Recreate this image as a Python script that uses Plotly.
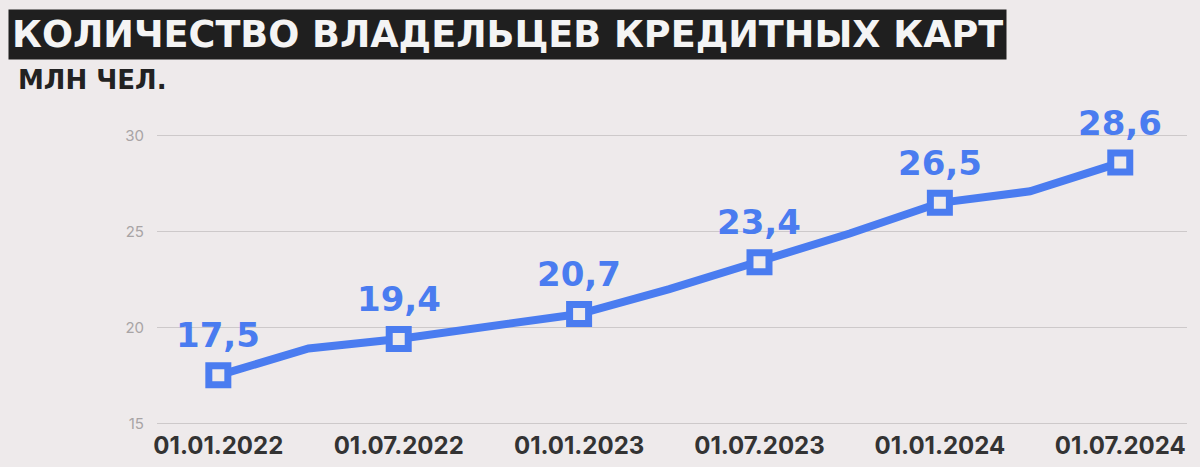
import plotly.graph_objects as go

# quarterly points; only half-year points are labelled and marked
quarters = ['01.01.2022', '01.04.2022', '01.07.2022', '01.10.2022',
            '01.01.2023', '01.04.2023', '01.07.2023', '01.10.2023',
            '01.01.2024', '01.04.2024', '01.07.2024']
owners = [17.5, 18.9, 19.4, 20.0, 20.7, 22.0, 23.4, 24.9, 26.5, 27.1, 28.6]

half_years = ['01.01.2022', '01.07.2022', '01.01.2023', '01.07.2023', '01.01.2024', '01.07.2024']
half_values = [17.5, 19.4, 20.7, 23.4, 26.5, 28.6]

y_ticks = [15, 20, 25, 30]

BLUE = '#4a7cf0'
BG = '#eeeaeb'

labels = [f'{v:.1f}'.replace('.', ',') for v in half_values]

fig = go.Figure()

fig.add_trace(go.Scatter(
    x=quarters, y=owners, mode='lines',
    line=dict(color=BLUE, width=8),
    hoverinfo='skip', showlegend=False,
))

fig.add_trace(go.Scatter(
    x=half_years, y=half_values, mode='markers',
    marker=dict(symbol='square', size=19, color=BG, line=dict(color=BLUE, width=7)),
    cliponaxis=False, hoverinfo='skip', showlegend=False,
))

# value labels above the markers
for d, v, t in zip(half_years, half_values, labels):
    fig.add_annotation(
        x=d, y=v, text=t, showarrow=False,
        xanchor='center', yanchor='bottom', yshift=18,
        font=dict(family='DejaVu Sans', size=34, color=BLUE, weight='bold'),
    )

fig.add_annotation(
    text='КОЛИЧЕСТВО ВЛАДЕЛЬЦЕВ КРЕДИТНЫХ КАРТ',
    xref='paper', yref='paper', x=-0.1447, y=1.32,
    xanchor='left', yanchor='middle', showarrow=False,
    bgcolor='#1f1f1f', borderpad=3,
    font=dict(family='DejaVu Sans', size=36.6, color='#f4f4f4', weight='bold'),
)
fig.add_annotation(
    text='МЛН ЧЕЛ.',
    xref='paper', yref='paper', x=-0.137, y=1.167,
    xanchor='left', yanchor='middle', showarrow=False,
    font=dict(family='DejaVu Sans', size=26, color='#222222', weight='bold'),
)

fig.update_layout(
    width=1200, height=467,
    margin=dict(l=157, r=13, t=130, b=38),
    plot_bgcolor=BG, paper_bgcolor=BG,
    xaxis=dict(
        type='category', categoryorder='array', categoryarray=quarters,
        range=[-0.68, 10.74], automargin=False,
        tickvals=half_years, ticktext=half_years,
        showgrid=False, zeroline=False, showline=False,
        ticks='',
        tickfont=dict(family='Inter', size=24, color='#333333', weight='bold'),
        ticklabelstandoff=0,
    ),
    yaxis=dict(
        range=[14.7, 30.3], tickvals=y_ticks, automargin=False,
        showgrid=True, gridcolor='#cdc9ca', gridwidth=1.3,
        zeroline=False, showline=False,
        tickfont=dict(family='Inter', size=15, color='#a8a4a5'),
        ticklabelstandoff=12,
    ),
)

# the page body has a default 8px margin; drop it so the figure sits at the corner
fig.write_html('out.html', config={'displayModeBar': False},
               post_script="document.body.style.margin='0px';"
                           "document.body.style.background='#eeeaeb';")
